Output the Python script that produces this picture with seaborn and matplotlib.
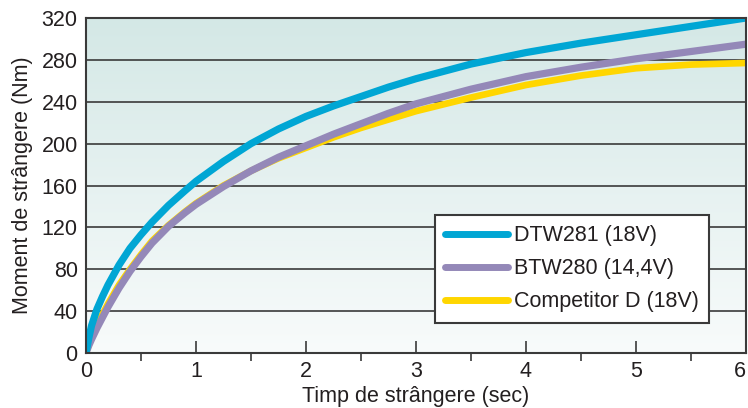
import numpy as np
import pandas as pd
import seaborn as sns
import matplotlib.pyplot as plt
from matplotlib.colors import LinearSegmentedColormap
from matplotlib.ticker import MultipleLocator

# values
time_s = [0, 0.025, 0.05, 0.1, 0.15, 0.2, 0.3, 0.4, 0.5, 0.6, 0.75, 0.9, 1.0,
          1.25, 1.5, 1.75, 2.0, 2.25, 2.5, 2.75, 3.0, 3.5, 4.0, 4.5, 5.0, 5.5, 6.0]
dtw281 = [0, 14, 26, 42, 54, 65, 84, 100, 113, 125, 141, 155, 164,
          183, 200, 214, 226, 236, 245, 254, 262, 276, 287, 296, 304, 312, 320]
btw280 = [0, 7, 13, 24, 34, 44, 62, 78, 92, 105, 121, 134, 142,
          159, 174, 187, 198, 209, 219, 229, 238, 252, 264, 273, 281, 288, 295]
competitor_d = [0, 8, 15, 27, 37, 47, 65, 80, 94, 107, 122, 135, 143,
                160, 174, 186, 196, 206, 215, 223, 231, 244, 256, 265, 272, 275.5, 277]

labels = ["DTW281 (18V)", "BTW280 (14,4V)", "Competitor D (18V)"]
colors = ["#00a6d4", "#9488b8", "#ffd600"]

sns.set_style("white")
plt.rcParams['font.family'] = ['Liberation Sans', 'DejaVu Sans']
txt = "#231f20"
fs = 15.5

fig = plt.figure(figsize=(7.48, 4.08), dpi=100)
ax = fig.add_axes([86/748, 55/408, 660/748, 335/408])

# gradient background
cmap = LinearSegmentedColormap.from_list("bg", ["#f8fbfb", "#d4e8e6"])
grad = np.linspace(0, 1, 256).reshape(-1, 1)
ax.imshow(grad, extent=[0, 6, 0, 320], origin="lower", aspect="auto", cmap=cmap, zorder=0)

for yv in range(40, 320, 40):
    ax.axhline(yv, color="#3a3a3a", lw=1.2, zorder=1)

df = pd.DataFrame({"t": time_s, "d": dtw281, "b": btw280, "c": competitor_d})
sns.lineplot(data=df, x="t", y="c", color=colors[2], lw=4.8, ax=ax, zorder=3, solid_capstyle="round")
sns.lineplot(data=df, x="t", y="b", color=colors[1], lw=5.2, ax=ax, zorder=4, solid_capstyle="round")
sns.lineplot(data=df, x="t", y="d", color=colors[0], lw=5.2, ax=ax, zorder=5, solid_capstyle="round")

ax.set_xlim(0, 6)
ax.set_ylim(0, 320)
ax.set_yticks(range(0, 321, 40))
ax.set_xticks(range(0, 7))
ax.xaxis.set_minor_locator(MultipleLocator(0.5))
ax.tick_params(axis="y", length=0, pad=6, labelsize=fs, labelcolor=txt)
ax.tick_params(axis="x", which="both", bottom=True)
ax.tick_params(axis="x", which="major", direction="in", length=8.5, width=1.2,
               color="#3a3a3a", pad=5.5, labelsize=fs, labelcolor=txt)
ax.tick_params(axis="x", which="minor", direction="out", length=6, width=1.2, color="#3a3a3a")
ax.set_xlabel("Timp de strângere (sec)", fontsize=fs, color=txt, labelpad=3)
ax.set_ylabel("Moment de strângere (Nm)", fontsize=fs, color=txt, labelpad=6)
# last tick label sits at the figure edge
ax.get_xticklabels()[-1].set_horizontalalignment("right")
for s in ax.spines.values():
    s.set_color("#3a3a3a")
    s.set_linewidth(1.5)
    s.set_zorder(6)

handles = [plt.Line2D([], [], color=c, lw=5, solid_capstyle="round") for c in colors]
leg = ax.legend(handles, labels, loc="upper left", bbox_to_anchor=(0.5288, 0.412),
                borderaxespad=0, fontsize=fs, frameon=True, fancybox=False,
                handlelength=2.9, handletextpad=0.3, labelspacing=0.56,
                borderpad=0.48)
leg.get_frame().set_edgecolor("#3a3a3a")
leg.get_frame().set_linewidth(1.5)
leg.get_frame().set_facecolor("white")
leg.get_frame().set_alpha(1)
for t in leg.get_texts():
    t.set_color(txt)
leg.set_zorder(10)

plt.savefig("out.png", dpi=100)
